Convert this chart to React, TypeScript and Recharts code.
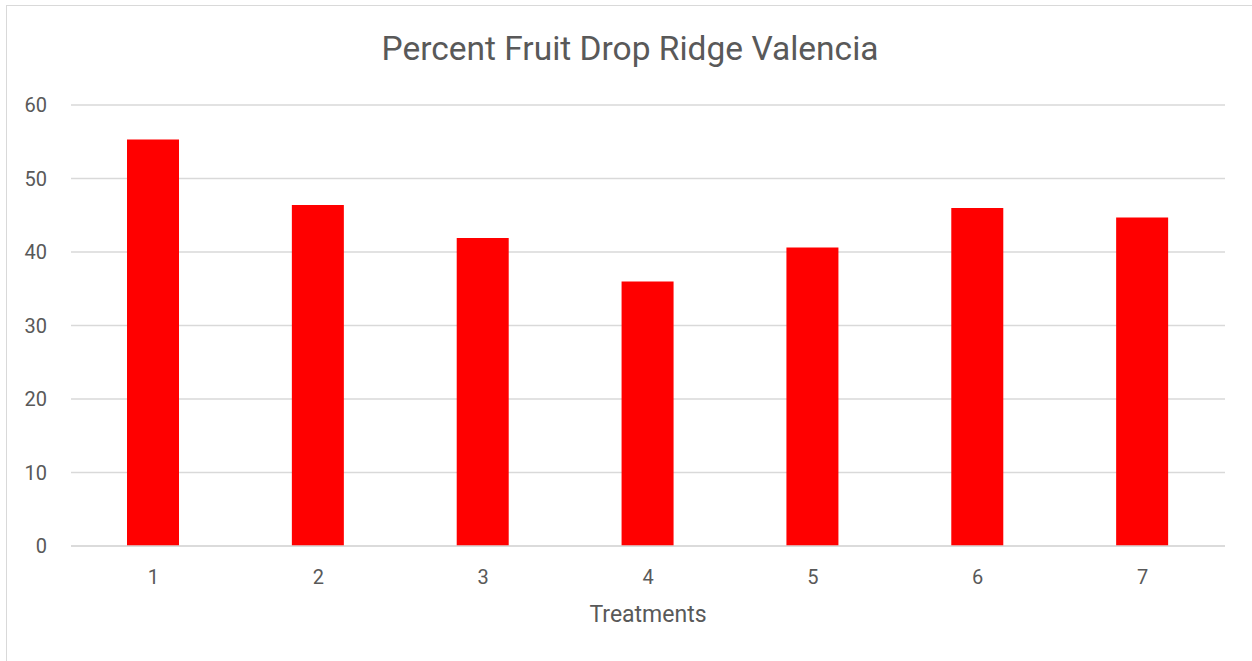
import { Bar, BarChart, CartesianGrid, Label, XAxis, YAxis } from 'recharts'

const treatments = ['1', '2', '3', '4', '5', '6', '7']
const fruitDrop = [55.3, 46.4, 41.9, 36.0, 40.6, 46.0, 44.7]
const yTicks = [0, 10, 20, 30, 40, 50, 60]

const data = treatments.map((t, i) => ({ treatment: t, drop: fruitDrop[i] }))

const FONT = 'Roboto, "Noto Sans", sans-serif'
const TEXT = '#595959'
const GRID = '#d9d9d9'

export default function App() {
	return (
		<div style={{ position: 'relative', width: 1252, height: 661, overflow: 'hidden', background: '#fff', fontFamily: FONT }}>
			<style>{'body{margin:0}'}</style>
			<div
				style={{
					position: 'absolute',
					left: 6,
					top: 5,
					width: 1260,
					height: 700,
					border: `1.5px solid ${GRID}`,
				}}
			/>
			<div
				style={{
					position: 'absolute',
					left: 0,
					top: 32,
					width: 1260,
					textAlign: 'center',
					fontSize: 33.5,
					lineHeight: 1,
					color: TEXT,
				}}
			>
				Percent Fruit Drop Ridge Valencia
			</div>
			<div style={{ position: 'absolute', left: 0, top: 0 }}>
				<BarChart width={1252} height={661} data={data} margin={{ top: 105, right: 27, bottom: 0, left: 0 }}>
					<CartesianGrid vertical={false} stroke={GRID} strokeWidth={1.5} />
					<XAxis
						dataKey='treatment'
						height={115}
						axisLine={{ stroke: GRID, strokeWidth: 1.5 }}
						tickLine={false}
						tickSize={0}
						tickMargin={24}
						tick={{ fill: TEXT, fontSize: 20, fontFamily: FONT }}
					>
						<Label
							content={({ viewBox }: any) => (
								<text
									x={viewBox.x + viewBox.width / 2}
									y={622}
									textAnchor='middle'
									fill={TEXT}
									fontSize={23}
									fontFamily={FONT}
								>
									Treatments
								</text>
							)}
						/>
					</XAxis>
					<YAxis
						width={71}
						domain={[0, 60]}
						ticks={yTicks}
						axisLine={false}
						tickLine={false}
						tickSize={0}
						tickMargin={24}
						tick={{ fill: TEXT, fontSize: 20, fontFamily: FONT }}
					/>
					<Bar dataKey='drop' fill='#ff0000' barSize={52} isAnimationActive={false} />
				</BarChart>
			</div>
		</div>
	)
}
